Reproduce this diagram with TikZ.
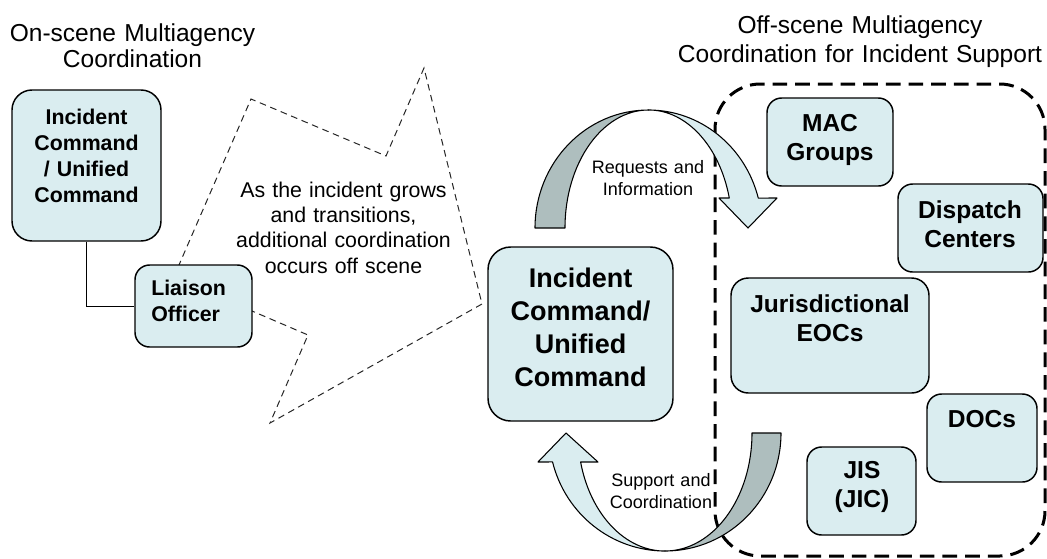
\documentclass[tikz,border=0pt]{standalone}
\usepackage{fontspec}
\setmainfont{Liberation Sans}
\definecolor{boxfill}{RGB}{218,237,240}
\definecolor{arrowdark}{RGB}{174,190,190}
\begin{document}
\begin{tikzpicture}[x=0.75pt,y=-0.75pt,
  box/.style={draw=black, line width=1.1pt, fill=boxfill, rounded corners=#1, inner sep=0pt},
  box/.default=11pt,
  txt/.style={inner sep=0pt, anchor=base, align=center, text width=#1},
  txt/.default=150pt,
  bendarrow/.style={draw=black, line width=0.8pt, line join=round},
  ftitle/.style={font=\fontsize{18.4pt}{19.5pt}\selectfont},
  fsmallb/.style={font=\fontsize{16pt}{19.5pt}\selectfont\bfseries},
  fbigb/.style={font=\fontsize{20.25pt}{24.75pt}\selectfont\bfseries},
  frightb/.style={font=\fontsize{18.4pt}{21.75pt}\selectfont\bfseries},
  fdash/.style={font=\fontsize{16pt}{19pt}\selectfont},
  flab/.style={font=\fontsize{13.5pt}{16.5pt}\selectfont}]
\useasboundingbox (0,0) rectangle (1047,558);

% off-scene panel
\draw[line width=2.25pt, dash pattern=on 11pt off 6pt, rounded corners=34pt] (715,84) rectangle (1045,556);

% dashed transition arrow
\draw[line width=0.75pt, draw=black!85, dash pattern=on 5pt off 3.5pt, line join=miter]
  (173.6,277.4) -- (251,99) -- (386,156) -- (424,68) -- (482,304) -- (270,423) -- (308,335) -- cycle;

% boxes
\node[box=15pt, minimum width=111.75pt, minimum height=113.25pt] (icl) at (86.5,165.5) {};
\node[box=11pt, minimum width=87.75pt, minimum height=61.5pt] (lia) at (193.5,306) {};
\draw[line width=0.75pt] (icl.south) |- (lia.west);
\node[box=17pt, minimum width=138.75pt, minimum height=130.5pt] (icc) at (580.5,334) {};
\node[box, minimum width=94.5pt, minimum height=66pt] (mac) at (830,142) {};
\node[box, minimum width=108.75pt, minimum height=66pt] (dis) at (970.5,228) {};
\node[box=13pt, minimum width=148.5pt, minimum height=86.25pt] (jur) at (830,335.5) {};
\node[box, minimum width=82.5pt, minimum height=66pt] (doc) at (982,438) {};
\node[box, minimum width=81.75pt, minimum height=66pt] (jis) at (861.5,491) {};

% curved arrows (top)
\filldraw[bendarrow, fill=arrowdark] (535,228)
  arc[start angle=180, end angle=90, x radius=85.125pt, y radius=88.5pt]
  arc[start angle=90, end angle=180, x radius=62.625pt, y radius=88.5pt] -- cycle;
\filldraw[bendarrow, fill=boxfill] (648.5,110)
  arc[start angle=90, end angle=14.7, x radius=85.125pt, y radius=88.5pt]
  -- (777,198) -- (748,228) -- (719,198) -- (729.3,198)
  arc[start angle=14.7, end angle=90, x radius=62.625pt, y radius=88.5pt] -- cycle;
% curved arrows (bottom)
\filldraw[bendarrow, fill=arrowdark] (781,433)
  arc[start angle=0, end angle=-90, x radius=87pt, y radius=88.5pt]
  arc[start angle=-90, end angle=0, x radius=65.25pt, y radius=88.5pt] -- cycle;
\filldraw[bendarrow, fill=boxfill] (665,551)
  arc[start angle=-90, end angle=-165.8, x radius=87pt, y radius=88.5pt]
  -- (538,462) -- (566,433) -- (598,462) -- (580.6,462)
  arc[start angle=-165.8, end angle=-90, x radius=65.25pt, y radius=88.5pt] -- cycle;

% texts
\node[txt=225pt, ftitle] (t1) at (132.5,41) {On-scene Multiagency\\Coordination};
\node[txt=300pt, ftitle, font=\fontsize{18.4pt}{21.75pt}\selectfont] (t2) at (860,33) {Off-scene Multiagency\\Coordination for Incident Support};
\node[txt=110pt, fsmallb] (icl-t) at (86.5,124) {Incident\\Command\\/ Unified\\Command};
\node[inner sep=0pt, anchor=base west, align=left, text width=70pt, fsmallb] (lia-t) at (151,295) {Liaison\\Officer};
\node[txt=138pt, fbigb] (icc-t) at (580.5,287) {Incident\\Command/\\Unified\\Command};
\node[txt=120pt, frightb] (mac-t) at (830,131) {MAC\\Groups};
\node[txt=120pt, frightb] (dis-t) at (970,218) {Dispatch\\Centers};
\node[txt=145pt, frightb] (jur-t) at (830,312) {Jurisdictional\\EOCs};
\node[txt=80pt, frightb] (doc-t) at (982,427) {DOCs};
\node[txt=80pt, frightb] (jis-t) at (862,478) {JIS\\(JIC)};
\node[txt=190pt, fdash] (dash-t) at (343.5,197) {As the incident grows\\and transitions,\\additional coordination\\occurs off scene};
\node[txt=110pt, flab] (req-t) at (648,173) {Requests and\\Information};
\node[txt=110pt, flab] (sup-t) at (661,486) {Support and\\Coordination};
\end{tikzpicture}
\end{document}
